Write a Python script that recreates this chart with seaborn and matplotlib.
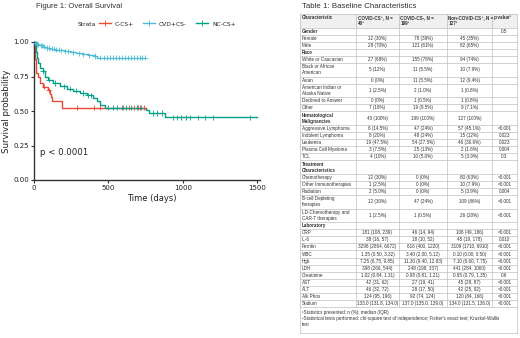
import numpy as np
import pandas as pd
import matplotlib
matplotlib.use("Agg")
import matplotlib.pyplot as plt
import seaborn as sns
from matplotlib.lines import Line2D

# ---------------- Kaplan-Meier data ----------------
strata = ["C-CS+", "CVD+CS-", "NC-CS+"]
colors = ["#E64B35", "#4DBBD5", "#00A087"]

ccs_time = [0, 8, 15, 30, 40, 58, 95, 107, 114, 120, 185, 745]
ccs_surv = [1.0, 0.875, 0.775, 0.75, 0.70, 0.675, 0.65, 0.625, 0.60, 0.575, 0.525, 0.525]
ccs_censor = [70, 100, 290, 400, 440, 600, 640, 670, 700, 720, 740]

cvd_time = [0, 3, 8, 15, 25, 40, 60, 85, 110, 140, 170, 200, 240, 280, 320, 360, 400, 420, 745]
cvd_surv = [1.0, 0.995, 0.99, 0.985, 0.98, 0.975, 0.965, 0.957, 0.95, 0.945, 0.94, 0.932,
            0.925, 0.918, 0.912, 0.905, 0.898, 0.885, 0.885]
cvd_censor = [10, 20, 30, 45, 55, 70, 90, 100, 120, 135, 150, 165, 180, 210, 230, 260, 300,
              330, 370, 410, 440, 470, 490, 510, 530, 550, 570, 590, 610, 630, 650, 670,
              690, 710, 725, 745]

ncs_time = [0, 13, 22, 29, 40, 58, 74, 96, 130, 174, 219, 264, 309, 353, 398, 420, 443, 476,
            750, 775, 880, 1500]
ncs_surv = [1.0, 0.93, 0.885, 0.85, 0.81, 0.787, 0.75, 0.727, 0.703, 0.679, 0.662, 0.647,
            0.63, 0.614, 0.594, 0.57, 0.546, 0.525, 0.51, 0.486, 0.454, 0.454]
ncs_censor = [60, 100, 140, 200, 240, 280, 330, 360, 380, 500, 530, 560, 590, 620, 650, 690,
              710, 800, 825, 860, 930, 960, 990, 1020, 1050, 1100, 1150, 1200, 1450]

x_ticks = [0, 500, 1000, 1500]
y_ticks = [0.0, 0.25, 0.5, 0.75, 1.0]

# ---------------- Table data ----------------
tbl_headers = ["Characteristic", "COVID-CS\u207a, N =\n40\u00b9", "COVID-CS-, N =\n199\u00b9",
               "Non-COVID-CS\u207a, N =\n127\u00b9", "p-value\u00b2"]
tbl_labels = ["Gender", "Female", "Male", "Race", "White or Caucasian",
              "Black or African\nAmerican", "Asian", "American Indian or\nAlaska Native",
              "Declined to Answer", "Other", "Hematological\nMalignancies",
              "Aggressive Lymphoma", "Indolent Lymphoma", "Leukemia", "Plasma Cell Myeloma",
              "TCL", "Treatment\nCharacteristics", "Chemotherapy", "Other Immunotherapies",
              "Radiation", "B-cell Depleting\ntherapies", "LD-Chemotherapy and\nCAR-T therapies",
              "Laboratory", "CRP", "IL-6", "Ferritin", "WBC", "Hgb", "LDH", "Creatinine",
              "AST", "ALT", "Alk Phos", "Sodium"]
tbl_bold = ["Gender", "Race", "Hematological\nMalignancies", "Treatment\nCharacteristics",
            "Laboratory"]
tbl_c1 = ["", "12 (30%)", "28 (70%)", "", "27 (68%)", "5 (12%)", "0 (0%)", "1 (2.5%)",
          "0 (0%)", "7 (18%)", "40 (100%)", "6 (14.5%)", "8 (20%)", "19 (47.5%)", "3 (7.5%)",
          "4 (10%)", "", "12 (30%)", "1 (2.5%)", "2 (5.0%)", "12 (30%)", "1 (2.5%)", "",
          "181 (108, 239)", "38 (16, 57)", "3298 (2864, 6672)", "1.35 (0.50, 3.32)",
          "7.25 (6.75, 9.85)", "398 (266, 544)", "1.02 (0.84, 1.31)", "42 (31, 62)",
          "46 (32, 72)", "124 (95, 196)", "133.0 (131.8, 134.0)"]
tbl_c2 = ["", "78 (39%)", "121 (61%)", "", "155 (78%)", "11 (5.5%)", "11 (5.5%)", "2 (1.0%)",
          "1 (0.5%)", "19 (9.5%)", "199 (100%)", "47 (24%)", "48 (24%)", "54 (27.5%)",
          "25 (13%)", "10 (5.0%)", "", "0 (0%)", "0 (0%)", "0 (0%)", "47 (24%)", "1 (0.5%)", "",
          "46 (14, 94)", "18 (10, 52)", "616 (400, 1220)", "3.40 (2.00, 5.12)",
          "11.30 (9.40, 12.83)", "248 (198, 337)", "0.98 (0.81, 1.21)", "27 (19, 41)",
          "28 (17, 50)", "92 (74, 124)", "137.0 (135.0, 139.0)"]
tbl_c3 = ["", "45 (35%)", "82 (65%)", "", "94 (74%)", "10 (7.9%)", "12 (9.4%)", "1 (0.8%)",
          "1 (0.8%)", "9 (7.1%)", "127 (100%)", "57 (45.1%)", "15 (12%)", "46 (36.6%)",
          "2 (1.6%)", "5 (3.9%)", "", "80 (63%)", "10 (7.9%)", "5 (3.9%)", "109 (86%)",
          "26 (20%)", "", "106 (49, 186)", "45 (19, 178)", "3109 (1710, 6910)",
          "0.10 (0.00, 0.50)", "7.10 (6.60, 7.75)", "441 (284, 1060)", "0.95 (0.79, 1.35)",
          "45 (28, 87)", "42 (25, 92)", "120 (84, 166)", "134.0 (131.5, 136.0)"]
tbl_p = ["0.5", "", "", "", "", "", "", "", "", "", "", "<0.001", "0.023", "0.023", "0.004",
         "0.3", "", "<0.001", "<0.001", "0.004", "<0.001", "<0.001", "", "<0.001", "0.010",
         "<0.001", "<0.001", "<0.001", "<0.001", "0.6", "<0.001", "<0.001", "<0.001", "<0.001"]
tbl_foot = ["\u00b9Statistics presented: n (%); median (IQR)",
            "\u00b2Statistical tests performed: chi-square test of independence; Fisher's exact test; Kruskal-Wallis",
            "test"]

# ---------------- figure ----------------
W, H = 520, 338
fig = plt.figure(figsize=(W / 100, H / 100), dpi=100)
plt.rcParams["font.family"] = ["DejaVu Sans"]

ax = fig.add_axes([34 / W, (H - 180) / H, 226 / W, 138 / H])

frames = []
cens = []
for name, t, s, c in [(strata[0], ccs_time, ccs_surv, ccs_censor),
                      (strata[1], cvd_time, cvd_surv, cvd_censor),
                      (strata[2], ncs_time, ncs_surv, ncs_censor)]:
    frames.append(pd.DataFrame({"time": t, "surv": s, "strata": name}))
    t_arr = np.array(t)
    s_arr = np.array(s)
    idx = np.searchsorted(t_arr, np.array(c), side="right") - 1
    cens.append(pd.DataFrame({"time": c, "surv": s_arr[idx], "strata": name}))
df = pd.concat(frames, ignore_index=True)
dc = pd.concat(cens, ignore_index=True)
pal = dict(zip(strata, colors))

sns.lineplot(data=df, x="time", y="surv", hue="strata", palette=pal, estimator=None,
             drawstyle="steps-post", linewidth=1.0, legend=False, ax=ax, clip_on=False,
             sort=False)
sns.scatterplot(data=dc, x="time", y="surv", hue="strata", palette=pal, marker="+", s=14,
                linewidth=0.6, legend=False, ax=ax, clip_on=False, zorder=3)

ax.set_xlim(0, 1517)
ax.set_ylim(0, 1)
ax.set_xticks(x_ticks)
ax.set_yticks(y_ticks)
ax.set_yticklabels([f"{v:.2f}" for v in y_ticks])
for sp in ["top", "right"]:
    ax.spines[sp].set_visible(False)
for sp in ["left", "bottom"]:
    ax.spines[sp].set_color("#333333")
    ax.spines[sp].set_linewidth(1.0)
ax.tick_params(axis="both", labelsize=5, length=2, width=0.8, color="#333333",
               labelcolor="#222222", pad=1.5)
ax.set_xlabel("Time (days)", fontsize=6, color="#222222")
ax.set_ylabel("Survival probability", fontsize=6.2, color="#222222")
ax.yaxis.set_label_coords(-0.10, 0.5)
ax.xaxis.set_label_coords(0.52, -0.1)
ax.text(40, 0.198, "p < 0.0001", fontsize=6.2, color="#222222", va="center", ha="left")

fig.text(36 / W, 1 - 6 / H, "Figure 1: Overall Survival", fontsize=5.5, color="#333333",
         family=["Liberation Sans", "DejaVu Sans"], va="center", ha="left")
fig.text(78 / W, 1 - 24 / H, "Strata", fontsize=4.3, color="#222222", va="center", ha="left")
handles = [Line2D([0], [0], color=c, lw=1.0, marker="+", markersize=4, markeredgewidth=0.6)
           for c in colors]
leg = fig.legend(handles, strata, loc="center left", bbox_to_anchor=(99 / W, 1 - 24 / H),
                 ncol=3, frameon=False, fontsize=4.3, handlelength=2.0, handletextpad=0.6,
                 columnspacing=1.6, borderpad=0, borderaxespad=0)
for t in leg.get_texts():
    t.set_color("#222222")

# ---------------- table ----------------
tx = fig.add_axes([0, 0, 1, 1])
tx.set_xlim(0, W)
tx.set_ylim(H, 0)
tx.axis("off")

tfam = ["Liberation Sans", "DejaVu Sans"]
fs = 3.3
tc = "#333333"
gc = "#bfbfbf"
cols = [300, 356, 399, 447, 492, 517]
top = 14
hh = 13.5
S = 7.1
D = 13.5

tx.text(302, 6, "Table 1: Baseline Characteristics", fontsize=5.7, color="#333333",
        family=tfam, va="center", ha="left")

# header
tx.add_patch(plt.Rectangle((cols[0], top), cols[-1] - cols[0], hh, color="#f0f0f0", lw=0))
for i, h in enumerate(tbl_headers):
    tx.text(cols[i] + 1.5, top + 1.2, h, fontsize=fs, color=tc, family=tfam,
            weight="bold", va="top", ha="left", linespacing=1.25)
y = top + hh
lines_y = [top, y]
for k, lab in enumerate(tbl_labels):
    rh = D if "\n" in lab else S
    bold = lab in tbl_bold
    tx.text(cols[0] + 1.5, y + rh / 2, lab, fontsize=fs, color=tc, family=tfam,
            weight="bold" if bold else "normal", va="center", ha="left", linespacing=1.25)
    for j, vals in enumerate([tbl_c1, tbl_c2, tbl_c3, tbl_p]):
        v = vals[k]
        if v:
            tx.text((cols[j + 1] + cols[j + 2]) / 2, y + rh / 2, v, fontsize=fs, color=tc,
                    family=tfam, va="center", ha="center")
    y += rh
    lines_y.append(y)
table_bottom = y
for ly in lines_y:
    tx.plot([cols[0], cols[-1]], [ly, ly], color=gc, lw=0.5)
for cx in cols[1:-1]:
    tx.plot([cx, cx], [top, table_bottom], color=gc, lw=0.5)
box_bottom = 333
tx.plot([cols[0], cols[0]], [top, box_bottom], color=gc, lw=0.5)
tx.plot([cols[-1], cols[-1]], [top, box_bottom], color=gc, lw=0.5)
tx.plot([cols[0], cols[-1]], [box_bottom, box_bottom], color=gc, lw=0.5)
fy = table_bottom + 5
for f in tbl_foot:
    tx.text(cols[0] + 1.5, fy, f, fontsize=fs, color=tc, family=tfam, va="center", ha="left")
    fy += 6.2

fig.savefig("out.png", dpi=100, facecolor="white")
